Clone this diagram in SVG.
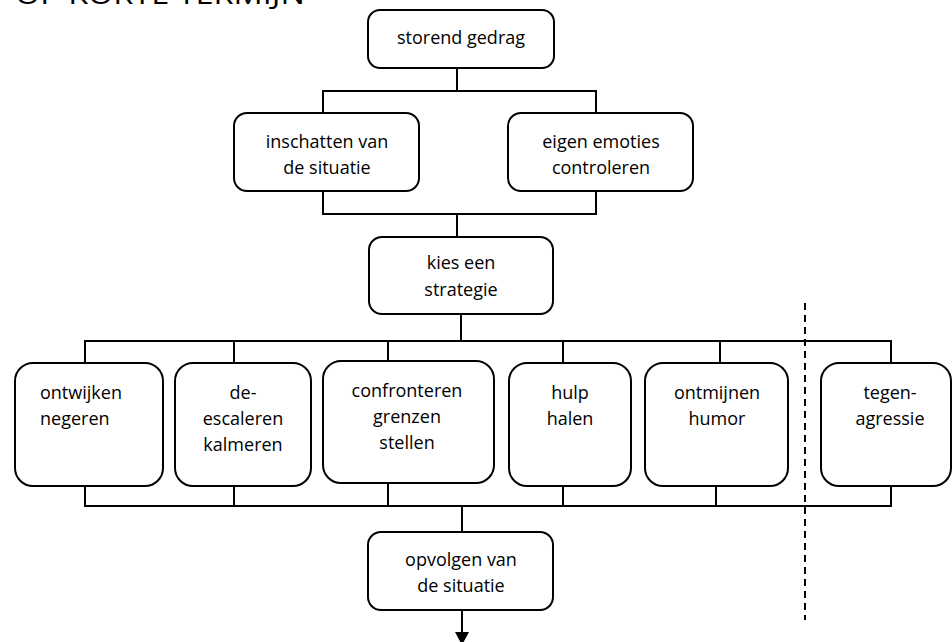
<svg xmlns="http://www.w3.org/2000/svg" width="952" height="642" viewBox="0 0 952 642">
<style>
.box{fill:#fff;stroke:#000;stroke-width:2}
.t{font-family:"Open Sans","Liberation Sans",sans-serif;font-size:18px;fill:#000;text-anchor:middle}
.tl{text-anchor:start}
.c{fill:none;stroke:#000;stroke-width:2}
.d{fill:none;stroke:#000;stroke-width:2;stroke-dasharray:7 5}
.title{font-family:"Open Sans","Liberation Sans",sans-serif;font-size:27px;fill:#000}
</style>
<rect width="952" height="642" fill="#fff"/>
<text class="title" x="15" y="4" textLength="290" lengthAdjust="spacingAndGlyphs">OP KORTE TERMIJN</text>
<g id="connectors">
<path class="c" d="M457 68V91M323 113V91H596V113"/>
<path class="c" d="M323 191V214H596V191M457 214V237"/>
<path class="c" d="M461 314V341M85 363V341H891V362M234 341V363M388 341V361M563 341V363M720 341V363"/>
<path class="c" d="M85 486V506H891V486M234 486V506M388 483V506M563 486V506M716 486V506M462 506V532"/>
<path class="c" d="M462 610V633"/>
<polygon points="455,632 469,632 462,645" fill="#000"/>
<path class="d" d="M805 303V620"/>
</g>
<g id="storend"><rect class="box" x="368" y="10" width="186" height="58" rx="12"/><text class="t" x="461" y="44">storend gedrag</text></g>
<g id="inschatten"><rect class="box" x="234" y="113" width="185" height="78" rx="13"/><text class="t" x="327" y="148">inschatten van</text><text class="t" x="327" y="174">de situatie</text></g>
<g id="emoties"><rect class="box" x="508" y="113" width="185" height="78" rx="13"/><text class="t" x="601" y="148">eigen emoties</text><text class="t" x="601" y="174">controleren</text></g>
<g id="kies"><rect class="box" x="369" y="237" width="184" height="77" rx="13"/><text class="t" x="461" y="269">kies een</text><text class="t" x="461" y="296">strategie</text></g>
<g id="ontwijken"><rect class="box" x="15" y="363" width="148" height="123" rx="18"/><text class="t tl" x="40" y="399">ontwijken</text><text class="t tl" x="40" y="425">negeren</text></g>
<g id="deescaleren"><rect class="box" x="175" y="363" width="136" height="123" rx="18"/><text class="t" x="243" y="399">de-</text><text class="t" x="243" y="425">escaleren</text><text class="t" x="243" y="451">kalmeren</text></g>
<g id="confronteren"><rect class="box" x="323" y="361" width="171" height="122" rx="18"/><text class="t" x="407" y="397">confronteren</text><text class="t" x="407" y="423">grenzen</text><text class="t" x="407" y="449">stellen</text></g>
<g id="hulp"><rect class="box" x="509" y="363" width="122" height="123" rx="18"/><text class="t" x="570" y="399">hulp</text><text class="t" x="570" y="425">halen</text></g>
<g id="ontmijnen"><rect class="box" x="645" y="363" width="143" height="123" rx="18"/><text class="t" x="717" y="399">ontmijnen</text><text class="t" x="717" y="425">humor</text></g>
<g id="tegenagressie"><rect class="box" x="821" y="363" width="130" height="123" rx="18"/><text class="t" x="890" y="399">tegen-</text><text class="t" x="890" y="425">agressie</text></g>
<g id="opvolgen"><rect class="box" x="368" y="532" width="185" height="78" rx="13"/><text class="t" x="461" y="566">opvolgen van</text><text class="t" x="461" y="592">de situatie</text></g>
</svg>
